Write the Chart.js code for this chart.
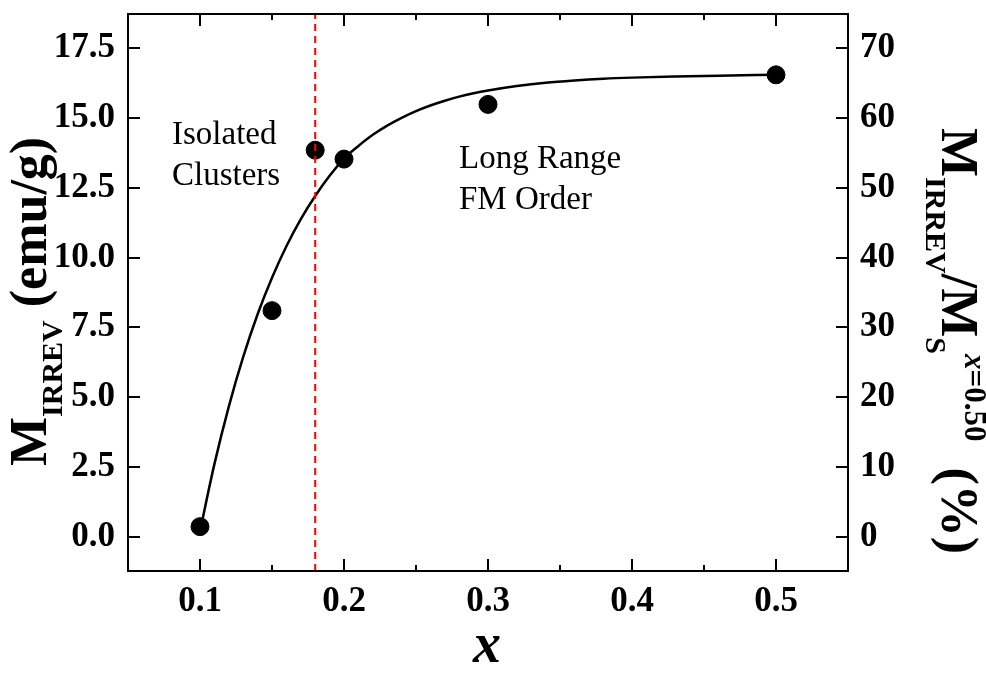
<!DOCTYPE html>
<html>
<head>
<meta charset="utf-8">
<script src="https://cdn.jsdelivr.net/npm/chart.js@4.4.1/dist/chart.umd.min.js"></script>
<style>
    html, body { margin: 0; padding: 0; background: #fff; }
    #wrap { width: 986px; height: 675px; }
</style>
</head>
<body>
<div id="wrap"><canvas id="mirrev-chart"></canvas></div>
<script>
// measured samples
const sampleX = [0.1, 0.15, 0.18, 0.2, 0.3, 0.5];
const mIrrev = [0.36, 8.1, 13.85, 13.53, 15.49, 16.55];

// fitted curve
const fitX = [0.100, 0.110, 0.120, 0.130, 0.140, 0.150, 0.160, 0.170, 0.180, 0.190, 0.200, 0.210, 0.220, 0.230, 0.240, 0.250, 0.260, 0.270, 0.280, 0.290, 0.300, 0.320, 0.340, 0.360, 0.380, 0.400, 0.430, 0.460, 0.500];
const fitY = [0.20, 2.60, 4.66, 6.44, 7.97, 9.28, 10.41, 11.38, 12.21, 12.93, 13.55, 14.00, 14.40, 14.73, 15.01, 15.25, 15.45, 15.62, 15.77, 15.89, 15.99, 16.15, 16.27, 16.35, 16.41, 16.45, 16.49, 16.52, 16.55];

const boundaryX = 0.18;

const xRange = [0.05, 0.55];
const yRange = [-1.23, 18.73];
const pctScale = 4; // right axis = left axis * 4

const xTicks = [0.1, 0.2, 0.3, 0.4, 0.5];
const xMinorTicks = [0.15, 0.25, 0.35, 0.45];
const yTicks = [0, 2.5, 5, 7.5, 10, 12.5, 15, 17.5];
const pctTicks = [0, 10, 20, 30, 40, 50, 60, 70];

const serif = '"Liberation Serif", "Times New Roman", serif';

const setTicks = (values) => (scale) => {
    scale.ticks = values.map(v => ({ value: v }));
};

// fixed box sizes so the plot frame lands where the original is
const fixBox = (w, h) => (s) => {
    if (w) s.width = w;
    if (h) s.height = h;
    s.paddingTop = 0; s.paddingBottom = 0; s.paddingLeft = 0; s.paddingRight = 0;
};

const drawRich = (ctx, segs, x, y, angle) => {
    ctx.save();
    ctx.translate(x, y);
    ctx.rotate(angle);
    ctx.textBaseline = 'alphabetic';
    ctx.textAlign = 'left';
    let cx = 0;
    segs.forEach(s => {
        ctx.font = `${s.italic ? 'italic ' : ''}bold ${s.size}px ${serif}`;
        ctx.fillText(s.text, cx, s.shift || 0);
        cx += ctx.measureText(s.text).width;
    });
    ctx.restore();
};

const framePlugin = {
    id: 'frame',
    afterDraw(chart) {
        const { ctx, chartArea: ca, scales } = chart;
        const x = scales.x, y = scales.y, y2 = scales.y2;
        ctx.save();
        ctx.strokeStyle = '#000';
        ctx.lineWidth = 2;
        ctx.strokeRect(ca.left, ca.top, ca.right - ca.left, ca.bottom - ca.top);

        ctx.beginPath();
        const xt = (vals, len) => vals.forEach(v => {
            const px = Math.round(x.getPixelForValue(v));
            ctx.moveTo(px, ca.bottom); ctx.lineTo(px, ca.bottom - len);
            ctx.moveTo(px, ca.top); ctx.lineTo(px, ca.top + len);
        });
        xt(xTicks, 12);
        xt(xMinorTicks, 6);
        yTicks.forEach(v => {
            const py = Math.round(y.getPixelForValue(v));
            ctx.moveTo(ca.left, py); ctx.lineTo(ca.left + 12, py);
        });
        pctTicks.forEach(v => {
            const py = Math.round(y2.getPixelForValue(v));
            ctx.moveTo(ca.right, py); ctx.lineTo(ca.right - 12, py);
        });
        ctx.stroke();

        ctx.fillStyle = '#000';
        // axis titles
        drawRich(ctx, [
            { text: 'M', size: 52 },
            { text: 'IRREV', size: 30, shift: 16 },
            { text: ' (emu/g)', size: 52 },
        ], 46, 466, -Math.PI / 2);

        drawRich(ctx, [
            { text: 'M', size: 52 },
            { text: 'IRREV', size: 30, shift: 16 },
            { text: '/M', size: 52 },
            { text: 'S', size: 30, shift: 16 },
            { text: 'x', size: 31, shift: -23, italic: true },
            { text: '=0.50', size: 31, shift: -23 },
            { text: '  (%)', size: 52 },
        ], 942, 128, Math.PI / 2);

        ctx.font = `italic bold 56px ${serif}`;
        ctx.textAlign = 'center';
        ctx.textBaseline = 'alphabetic';
        ctx.fillText('x', 487, 662);

        // region labels
        ctx.font = `33px ${serif}`;
        ctx.textAlign = 'left';
        ctx.fillText('Isolated', 172, 144);
        ctx.fillText('Clusters', 172, 185);
        ctx.fillText('Long Range', 459, 168);
        ctx.fillText('FM Order', 459, 209);
        ctx.restore();
    }
};

const tickFont = { family: serif, size: 35, weight: 'bold' };

new Chart(document.getElementById('mirrev-chart'), {
    type: 'scatter',
    data: {
        datasets: [
            {
                label: 'fit',
                data: fitX.map((v, i) => ({ x: v, y: fitY[i] })),
                showLine: true,
                borderColor: '#000',
                borderWidth: 2.5,
                pointRadius: 0,
                cubicInterpolationMode: 'monotone',
                order: 2,
            },
            {
                label: 'M_IRREV',
                data: sampleX.map((v, i) => ({ x: v, y: mIrrev[i] })),
                backgroundColor: '#000',
                borderColor: '#000',
                pointRadius: 9,
                pointHoverRadius: 9,
                order: 1,
            },
            {
                label: 'boundary',
                data: [{ x: boundaryX, y: yRange[0] }, { x: boundaryX, y: yRange[1] }],
                showLine: true,
                borderColor: '#ff0000',
                borderWidth: 2,
                borderDash: [7, 5],
                pointRadius: 0,
                order: 0,
            },
        ],
    },
    options: {
        responsive: true,
        maintainAspectRatio: false,
        animation: false,
        layout: { padding: { top: 14, left: 0, right: 0, bottom: 0 } },
        plugins: { legend: { display: false }, tooltip: { enabled: false } },
        scales: {
            x: {
                type: 'linear',
                position: 'bottom',
                min: xRange[0],
                max: xRange[1],
                afterBuildTicks: setTicks(xTicks),
                afterFit: fixBox(0, 104),
                grid: { display: false, drawTicks: false },
                border: { display: false },
                ticks: { font: tickFont, color: '#000', padding: 10, maxRotation: 0, autoSkip: false,
                    callback: (v) => v.toFixed(1) },
            },
            y: {
                type: 'linear',
                position: 'left',
                min: yRange[0],
                max: yRange[1],
                afterBuildTicks: setTicks(yTicks),
                afterFit: fixBox(128, 0),
                grid: { display: false, drawTicks: false },
                border: { display: false },
                ticks: { font: tickFont, color: '#000', padding: 13, autoSkip: false,
                    callback: (v) => v.toFixed(1) },
            },
            y2: {
                type: 'linear',
                position: 'right',
                min: yRange[0] * pctScale,
                max: yRange[1] * pctScale,
                afterBuildTicks: setTicks(pctTicks),
                afterFit: fixBox(138, 0),
                grid: { display: false, drawTicks: false },
                border: { display: false },
                ticks: { font: tickFont, color: '#000', padding: 12, autoSkip: false,
                    callback: (v) => String(v) },
            },
        },
    },
    plugins: [framePlugin],
});
</script>
</body>
</html>
